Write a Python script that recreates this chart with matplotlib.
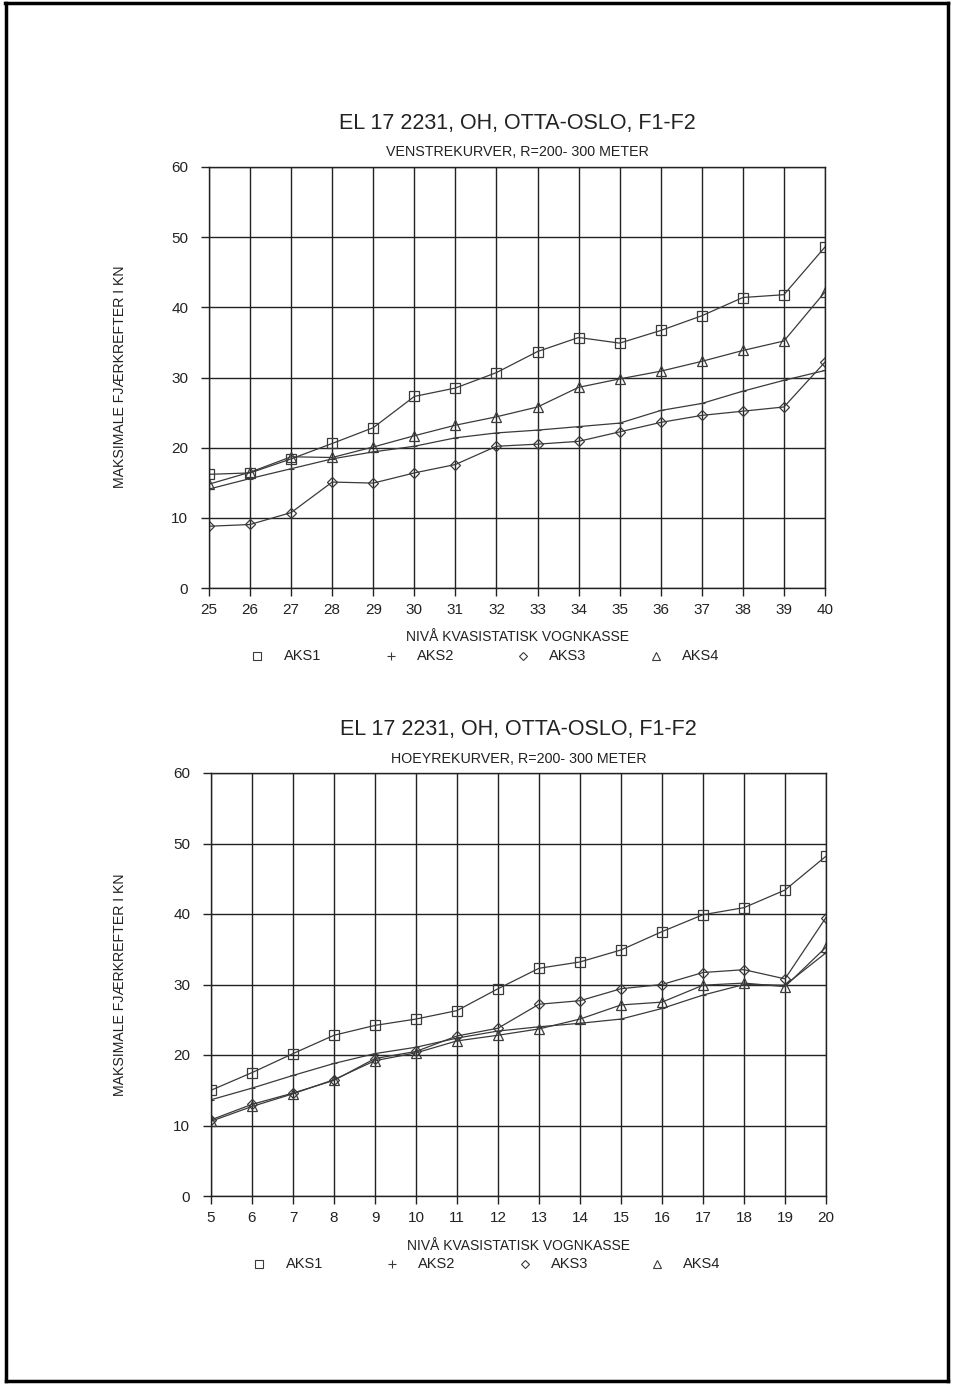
import matplotlib
matplotlib.use('Agg')
import matplotlib.pyplot as plt
from matplotlib.lines import Line2D

# ---------------- data ----------------
x_top = list(range(25, 41))
top_aks1 = [16.2, 16.4, 18.4, 20.6, 22.85, 27.3, 28.5, 30.7, 33.7, 35.7, 34.9, 36.7, 38.8, 41.4, 41.8, 48.6]
top_aks2 = [14.1, 15.6, 17.0, 18.4, 19.4, 20.2, 21.4, 22.1, 22.5, 23.0, 23.5, 25.3, 26.3, 28.05, 29.6, 31.0]
top_aks3 = [8.8, 9.05, 10.75, 15.1, 14.95, 16.4, 17.6, 20.2, 20.5, 20.9, 22.25, 23.6, 24.6, 25.2, 25.8, 32.2]
top_aks4 = [14.8, 16.5, 18.7, 18.6, 20.1, 21.7, 23.2, 24.4, 25.8, 28.6, 29.8, 30.9, 32.3, 33.85, 35.2, 42.2]

x_bot = list(range(5, 21))
bot_aks1 = [15.0, 17.5, 20.2, 22.8, 24.2, 25.1, 26.3, 29.4, 32.3, 33.2, 34.9, 37.5, 39.9, 40.9, 43.4, 48.2]
bot_aks2 = [13.65, 15.3, 17.1, 18.8, 20.2, 21.1, 22.4, 23.4, 24.0, 24.5, 25.1, 26.6, 28.5, 30.0, 29.9, 34.5]
bot_aks3 = [10.8, 13.0, 14.6, 16.4, 19.5, 20.5, 22.7, 23.8, 27.2, 27.7, 29.4, 30.0, 31.7, 32.1, 30.8, 39.5]
bot_aks4 = [10.6, 12.7, 14.5, 16.5, 19.2, 20.3, 22.0, 22.8, 23.7, 25.1, 27.1, 27.5, 29.9, 30.2, 29.7, 35.3]

y_ticks = [0, 10, 20, 30, 40, 50, 60]
series_names = ['AKS1', 'AKS2', 'AKS3', 'AKS4']
title_text = 'EL 17 2231, OH, OTTA-OSLO, F1-F2'
sub_top = 'VENSTREKURVER, R=200- 300 METER'
sub_bot = 'HOEYREKURVER, R=200- 300 METER'
xlabel_text = 'NIVÅ KVASISTATISK VOGNKASSE'
ylabel_text = 'MAKSIMALE FJÆRKREFTER I KN'

FONT = ['Liberation Sans Narrow', 'Liberation Sans', 'DejaVu Sans']
plt.rcParams['font.family'] = FONT

W, H = 960, 1385
fig = plt.figure(figsize=(W / 100, H / 100), dpi=100)
fig.patch.set_facecolor('white')

INK = '#222222'
LINE = '#3a3a3a'


def fx(px):
    return px / W


def fy(py):
    return 1 - py / H


def panel(left, right, top, bottom, xs, s1, s2, s3, s4, subtitle,
          title_y, sub_y, xlab_y, leg_y, leg_x, ylab_y):
    ax = fig.add_axes([fx(left), fy(bottom), fx(right - left), (bottom - top) / H])
    ax.set_xlim(xs[0], xs[-1])
    ax.set_ylim(0, 60)
    ax.set_xticks(xs)
    ax.set_yticks(y_ticks)
    ax.grid(True, color=INK, linewidth=1.0)
    ax.set_axisbelow(True)
    for sp in ax.spines.values():
        sp.set_color(INK)
        sp.set_linewidth(1.0)
    ax.tick_params(axis='both', direction='out', length=6, width=1.0, color=INK,
                   labelsize=11, labelcolor=INK)
    ax.tick_params(axis='y', pad=9)
    ax.tick_params(axis='x', pad=5)

    ax.plot(xs, s1, color=LINE, lw=0.9, marker='s', ms=7, mfc='none', mec=LINE, mew=0.9)
    ax.plot(xs, s2, color=LINE, lw=0.9, marker='+', ms=4, mec=LINE, mew=0.8)
    ax.plot(xs, s3, color=LINE, lw=0.9, marker='D', ms=5, mfc='none', mec=LINE, mew=0.9)
    ax.plot(xs, s4, color=LINE, lw=0.9, marker='^', ms=7, mfc='none', mec=LINE, mew=0.9)

    cx = (left + right) / 2
    fig.text(fx(cx), fy(title_y), title_text, ha='center', va='center',
             fontsize=15.5, color=INK)
    fig.text(fx(cx), fy(sub_y), subtitle, ha='center', va='center',
             fontsize=10.3, color=INK)
    fig.text(fx(cx), fy(xlab_y), xlabel_text, ha='center', va='center',
             fontsize=10, color=INK)
    fig.text(fx(120), fy(ylab_y), ylabel_text, ha='center', va='center',
             rotation=90, fontsize=10.2, color=INK)

    markers = ['s', '+', 'D', '^']
    msz = [5.5, 6, 4, 5.5]
    for (mx, tx), m, s, name in zip(leg_x, markers, msz, series_names):
        fig.add_artist(Line2D([fx(mx)], [fy(leg_y)], transform=fig.transFigure,
                              marker=m, ms=s, mfc='none', mec=LINE, mew=0.8,
                              linestyle='none'))
        fig.text(fx(tx), fy(leg_y), name, ha='left', va='center',
                 fontsize=10.5, color=INK)
    return ax


panel(209, 825, 167, 588, x_top, top_aks1, top_aks2, top_aks3, top_aks4, sub_top,
      title_y=123, sub_y=152, xlab_y=637, leg_y=656,
      leg_x=[(257, 284), (391, 417), (523, 549), (656, 682)], ylab_y=377)

panel(211, 826, 773, 1196, x_bot, bot_aks1, bot_aks2, bot_aks3, bot_aks4, sub_bot,
      title_y=729, sub_y=759, xlab_y=1246, leg_y=1264,
      leg_x=[(259, 286), (392, 418), (525, 551), (657, 683)], ylab_y=985)

# page border (scanned frame)
for xs_, ys_ in [([5, 948], [3, 3]), ([6, 6], [3, 1381]), ([948, 948], [3, 1381]),
                 ([6, 948], [1381, 1381])]:
    fig.add_artist(Line2D([fx(v) for v in xs_], [fy(v) for v in ys_],
                          transform=fig.transFigure, color='black', lw=2.5))

fig.savefig('out.png', dpi=100, facecolor='white')
